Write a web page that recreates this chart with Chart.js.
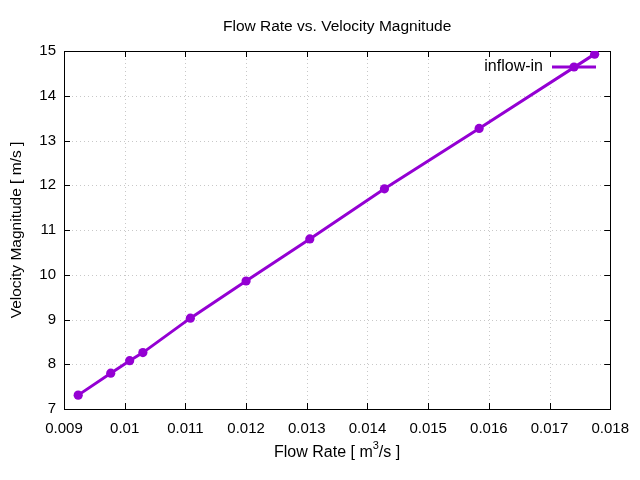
<!DOCTYPE html>
<html>
<head>
<meta charset="utf-8">
<script src="https://cdn.jsdelivr.net/npm/chart.js@4"></script>
<style>
  html, body { margin: 0; padding: 0; background: #fff; }
  #wrap { width: 640px; height: 480px; }
</style>
</head>
<body>
<div id="wrap"><canvas id="c"></canvas></div>
<script>
// data
const flowRate = [0.009234, 0.009770, 0.010082, 0.010300, 0.011082, 0.012000, 0.013050, 0.014280, 0.015840, 0.017743];
const velocity = [7.31, 7.80, 8.08, 8.26, 9.03, 9.86, 10.80, 11.92, 13.27, 14.93];
const xTicks = [0.009, 0.010, 0.011, 0.012, 0.013, 0.014, 0.015, 0.016, 0.017, 0.018];
const yTicks = [7, 8, 9, 10, 11, 12, 13, 14, 15];
const seriesName = 'inflow-in';

const COLOR = '#9400d3';
const FONT = '"Liberation Sans", Arial, sans-serif';

const points = flowRate.map((x, i) => ({ x: x, y: velocity[i] }));

// gnuplot-like frame, dotted grid, inward ticks, titles, legend
const gnuplotLook = {
    id: 'gnuplotLook',
    beforeDatasetsDraw(chart) {
        const ctx = chart.ctx;
        const a = chart.chartArea;
        const xs = chart.scales.x, ys = chart.scales.y;
        ctx.save();
        ctx.strokeStyle = '#c8c8c8';
        ctx.lineWidth = 1;
        ctx.setLineDash([1, 3]);
        xTicks.slice(1, -1).forEach(v => {
            const px = Math.round(xs.getPixelForValue(v)) + 0.5;
            ctx.beginPath();
            ctx.moveTo(px, a.top);
            ctx.lineTo(px, a.bottom);
            ctx.stroke();
        });
        yTicks.slice(1, -1).forEach(v => {
            const py = Math.round(ys.getPixelForValue(v)) + 0.5;
            ctx.beginPath();
            ctx.moveTo(a.left, py);
            ctx.lineTo(a.right, py);
            ctx.stroke();
        });
        ctx.setLineDash([]);
        // legend box background hides grid
        ctx.fillStyle = '#fff';
        ctx.fillRect(470, a.top + 1, a.right - 471, 28);

        // frame + ticks
        ctx.strokeStyle = '#000';
        ctx.lineWidth = 1;
        ctx.strokeRect(Math.round(a.left) + 0.5, Math.round(a.top) + 0.5,
            Math.round(a.right - a.left), Math.round(a.bottom - a.top));
        const tl = 6;
        ctx.beginPath();
        xTicks.forEach(v => {
            const px = Math.round(xs.getPixelForValue(v)) + 0.5;
            ctx.moveTo(px, a.bottom); ctx.lineTo(px, a.bottom - tl);
            ctx.moveTo(px, a.top); ctx.lineTo(px, a.top + tl);
        });
        yTicks.forEach(v => {
            const py = Math.round(ys.getPixelForValue(v)) + 0.5;
            ctx.moveTo(a.left, py); ctx.lineTo(a.left + tl, py);
            ctx.moveTo(a.right, py); ctx.lineTo(a.right - tl, py);
        });
        ctx.stroke();
        ctx.restore();
    },
    afterDraw(chart) {
        const ctx = chart.ctx;
        const a = chart.chartArea;
        const cx = (a.left + a.right) / 2;
        ctx.save();
        ctx.fillStyle = '#000';
        ctx.textBaseline = 'middle';

        // title
        ctx.font = '15.5px ' + FONT;
        ctx.textAlign = 'center';
        ctx.fillText('Flow Rate vs. Velocity Magnitude', cx, 27);

        // x axis title with superscript
        const p1 = 'Flow Rate [ m', p2 = '3', p3 = '/s ]';
        ctx.font = '16px ' + FONT;
        const w1 = ctx.measureText(p1).width, w3 = ctx.measureText(p3).width;
        ctx.font = '11px ' + FONT;
        const w2 = ctx.measureText(p2).width;
        let x0 = cx - (w1 + w2 + w3) / 2;
        ctx.textAlign = 'left';
        ctx.font = '16px ' + FONT;
        ctx.fillText(p1, x0, 453);
        ctx.font = '11px ' + FONT;
        ctx.fillText(p2, x0 + w1, 446);
        ctx.font = '16px ' + FONT;
        ctx.fillText(p3, x0 + w1 + w2, 453);

        // y axis title
        ctx.translate(17, (a.top + a.bottom) / 2);
        ctx.rotate(-Math.PI / 2);
        ctx.textAlign = 'center';
        ctx.font = '15.5px ' + FONT;
        ctx.fillText('Velocity Magnitude [ m/s ]', 0, 0);
        ctx.restore();

        // legend
        ctx.save();
        const ly = 67;
        ctx.font = '16px ' + FONT;
        ctx.fillStyle = '#000';
        ctx.textAlign = 'right';
        ctx.textBaseline = 'middle';
        ctx.fillText(seriesName, 543, ly);
        ctx.strokeStyle = COLOR;
        ctx.lineWidth = 3;
        ctx.beginPath();
        ctx.moveTo(552, ly); ctx.lineTo(596, ly);
        ctx.stroke();
        ctx.fillStyle = COLOR;
        ctx.beginPath();
        ctx.arc(574, ly, 4.6, 0, Math.PI * 2);
        ctx.fill();
        ctx.restore();
    }
};

new Chart(document.getElementById('c'), {
    type: 'scatter',
    data: {
        datasets: [{
            label: seriesName,
            data: points,
            showLine: true,
            borderColor: COLOR,
            backgroundColor: COLOR,
            borderWidth: 3,
            pointRadius: 4.6,
            pointHoverRadius: 4.6,
            pointBorderWidth: 0
        }]
    },
    options: {
        responsive: true,
        maintainAspectRatio: false,
        animation: false,
        events: [],
        layout: { padding: { left: 0, right: 26, top: 51, bottom: 0 } },
        plugins: {
            legend: { display: false },
            title: { display: false },
            tooltip: { enabled: false }
        },
        scales: {
            x: {
                type: 'linear',
                min: 0.009,
                max: 0.018,
                afterBuildTicks: s => { s.ticks = xTicks.map(v => ({ value: v })); },
                afterFit: s => { s.height = 71; },
                grid: { display: false, drawTicks: false },
                border: { display: false },
                ticks: {
                    padding: 11,
                    color: '#000',
                    font: { family: FONT, size: 15 },
                    maxRotation: 0,
                    autoSkip: false,
                    callback: v => String(Number(v.toFixed(3)))
                }
            },
            y: {
                type: 'linear',
                min: 7,
                max: 15,
                afterBuildTicks: s => { s.ticks = yTicks.map(v => ({ value: v })); },
                afterFit: s => { s.width = 64; },
                grid: { display: false, drawTicks: false },
                border: { display: false },
                ticks: {
                    padding: 8,
                    color: '#000',
                    font: { family: FONT, size: 15 },
                    autoSkip: false,
                    callback: v => String(v)
                }
            }
        }
    },
    plugins: [gnuplotLook]
});
</script>
</body>
</html>
